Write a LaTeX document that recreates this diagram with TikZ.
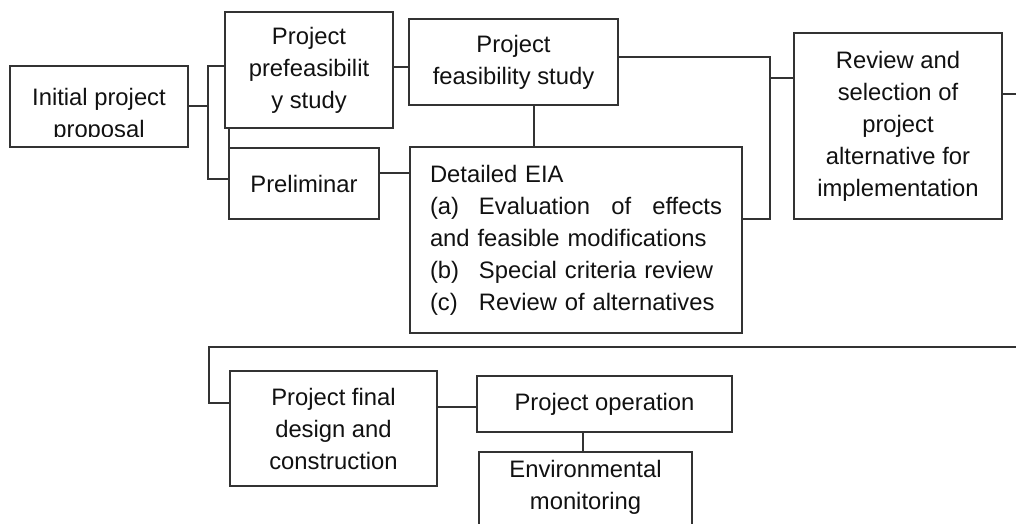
\documentclass[tikz,border=0pt]{standalone}
\usepackage{fontspec}
\setmainfont{Liberation Sans}
\usepackage{tikz}
\usepackage{xcolor}
\definecolor{LineGray}{HTML}{333333}
\definecolor{TextBlack}{HTML}{111111}

\begin{document}
\begin{tikzpicture}[x=1pt,y=-1pt,
    box/.style={draw=LineGray,line width=2pt,inner sep=0pt,outer sep=0pt,align=center,
      text=TextBlack,font=\fontsize{23.8}{32}\selectfont},
    link/.style={draw=LineGray,line width=2pt}]
    \useasboundingbox (0,0) rectangle (1016,524);
    % Proposal (text runs past the clipped frame)
    \node[box,minimum width=178pt,minimum height=81pt] (init) at (99,106.5) {};
    \begin{scope}
      \clip (10,66) rectangle (188,136);
      \node[box,draw=none] (initlbl) at (99,115) {Initial project\\proposal};
    \end{scope}
    % Early studies
    \node[box,minimum width=168pt,minimum height=116pt] (prefeas) at (309,70) {Project\\prefeasibilit\\y study};
    \node[box,minimum width=150pt,minimum height=71pt] (prelim) at (304,183.5) {Preliminar};
    \node[box,minimum width=209pt,minimum height=86pt] (feas) at (513.5,62) {Project\\feasibility study};
    % Detailed EIA
    \node[box,minimum width=332pt,minimum height=186pt,text width=292pt,align=left] (eia) at (576,240)
      {Detailed EIA\\
       \makebox[49pt][l]{(a)}\makebox[243pt][l]{Evaluation\hfill of\hfill effects}\\
       and feasible modifications\\
       \makebox[49pt][l]{(b)}Special criteria review\\
       \makebox[49pt][l]{(c)}Review of alternatives};
    \node[box,minimum width=208pt,minimum height=186pt] (review) at (898,126)
      {Review and\\selection of\\project\\alternative for\\implementation};
    % Second row
    \node[box,minimum width=207pt,minimum height=115pt] (final) at (333.5,428.5) {Project final\\design and\\construction};
    \node[box,minimum width=255pt,minimum height=56pt] (oper) at (604.5,404) {Project operation};
    \node[box,minimum width=213pt,inner ysep=8pt,text depth=25pt,anchor=north] (monit) at (585.5,452) {Environmental\\monitoring};

    % Junction points
    \coordinate (s1) at (208,66);
    \coordinate (s2) at (208,179);
    \coordinate (s3) at (400,67);
    \coordinate (s4) at (390,173);
    \coordinate (s5) at (534,125);
    \coordinate (s6) at (770,57);
    \coordinate (s7) at (770,219);
    \coordinate (s8) at (770,78);
    \coordinate (e1) at (1016,94);
    \coordinate (e2) at (1016,347);
    \coordinate (s9) at (209,347);
    \coordinate (s10) at (209,403);
    \coordinate (s11) at (455,407);
    \coordinate (s12) at (583,442);

    % Connectors, first row
    \draw[link] (init.east) -- (init.east -| s1);
    \draw[link] (s1 -| prefeas.west) -- (s1) -- (s2) -- (s2 -| prelim.west);
    \draw[link] (prelim.north west) -- (prelim.north west |- prefeas.south);
    \draw[link] (s3 -| prefeas.east) -- (s3 -| feas.west);
    \draw[link] (s4 -| prelim.east) -- (s4 -| eia.west);
    \draw[link] (s5 |- feas.south) -- (s5 |- eia.north);
    \draw[link] (s6 -| feas.east) -- (s6) -- (s7) -- (s7 -| eia.east);
    \draw[link] (s8) -- (s8 -| review.west);
    \draw[link] (e1 -| review.east) -- (e1);
    % Connectors, second row
    \draw[link] (e2) -- (s9) -- (s10) -- (s10 -| final.west);
    \draw[link] (s11 -| final.east) -- (s11 -| oper.west);
    \draw[link] (s12 |- oper.south) -- (s12 |- monit.north);
  \end{tikzpicture}
\end{document}
